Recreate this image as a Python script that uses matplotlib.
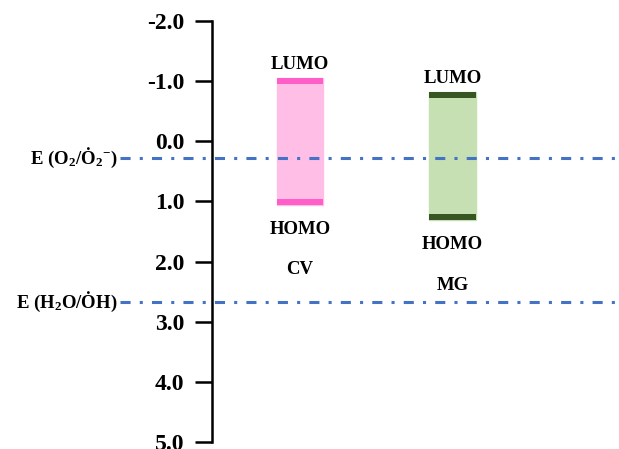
import matplotlib
matplotlib.use("Agg")
from matplotlib import pyplot as plt
from matplotlib import transforms

plt.rcParams['font.family'] = 'Liberation Serif'
plt.rcParams['font.weight'] = 'bold'
plt.rcParams['mathtext.fontset'] = 'custom'
plt.rcParams['mathtext.rm'] = 'Liberation Serif:bold'
plt.rcParams['mathtext.it'] = 'Liberation Serif:bold'
plt.rcParams['mathtext.bf'] = 'Liberation Serif:bold'
plt.rcParams['axes.unicode_minus'] = False

# data
dyes = ['CV', 'MG']
lumo = [-1.05, -0.82]
homo = [1.06, 1.31]
fill_colors = ['#FFBEE6', '#C6E0B4']
edge_colors = ['#FF5EC8', '#375623']

ref_levels = [0.28, 2.67]
ref_labels = ['E (O$_2$/Ȯ$_2$$^{-}$)', 'E (H$_2$O/ȮH)']

yticks = [-2.0, -1.0, 0.0, 1.0, 2.0, 3.0, 4.0, 5.0]

fig = plt.figure(figsize=(6.19, 4.49), dpi=100)
ax = fig.add_axes([0.3425, 0.0156, 0.6575, 0.9376])

pos = [1, 2]
width = 0.305
stripe = 0.1
for p, lo, hi, fc, ec, name in zip(pos, lumo, homo, fill_colors, edge_colors, dyes):
    ax.bar(p, hi - lo, bottom=lo, width=width, color=fc, edgecolor=fc, zorder=2)
    ax.bar(p, stripe, bottom=lo, width=width, color=ec, zorder=3)
    ax.bar(p, stripe, bottom=hi - stripe, width=width, color=ec, zorder=3)
    ax.text(p, lo - 0.22, 'LUMO', ha='center', va='center', fontsize=13.5)
    ax.text(p, hi + 0.4, 'HOMO', ha='center', va='center', fontsize=13.5)
    ax.text(p, hi + 1.08, name, ha='center', va='center', fontsize=13.5)

trans = transforms.blended_transform_factory(ax.transAxes, ax.transData)
for lvl, lab in zip(ref_levels, ref_labels):
    ax.axhline(lvl, xmin=-0.226, xmax=1, color='#4472C4', lw=2.2,
               linestyle=(0, (3.3, 3, 1, 3)), clip_on=False, zorder=4)
    ax.text(-0.231, lvl, lab, transform=trans, ha='right', va='center', fontsize=13.5)

ax.set_xlim(0.423, 3.092)
ax.set_ylim(5.0, -2.0)
ax.set_yticks(yticks)
ax.set_yticklabels([f'{t:.1f}' for t in yticks], fontsize=17, fontweight='bold')
ax.set_xticks([])
for s in ['top', 'right', 'bottom']:
    ax.spines[s].set_visible(False)
ax.spines['left'].set_linewidth(1.8)
ax.tick_params(axis='y', direction='out', length=12, width=1.8, pad=8)
ax.patch.set_alpha(0)

fig.savefig('out.png', dpi=100)
